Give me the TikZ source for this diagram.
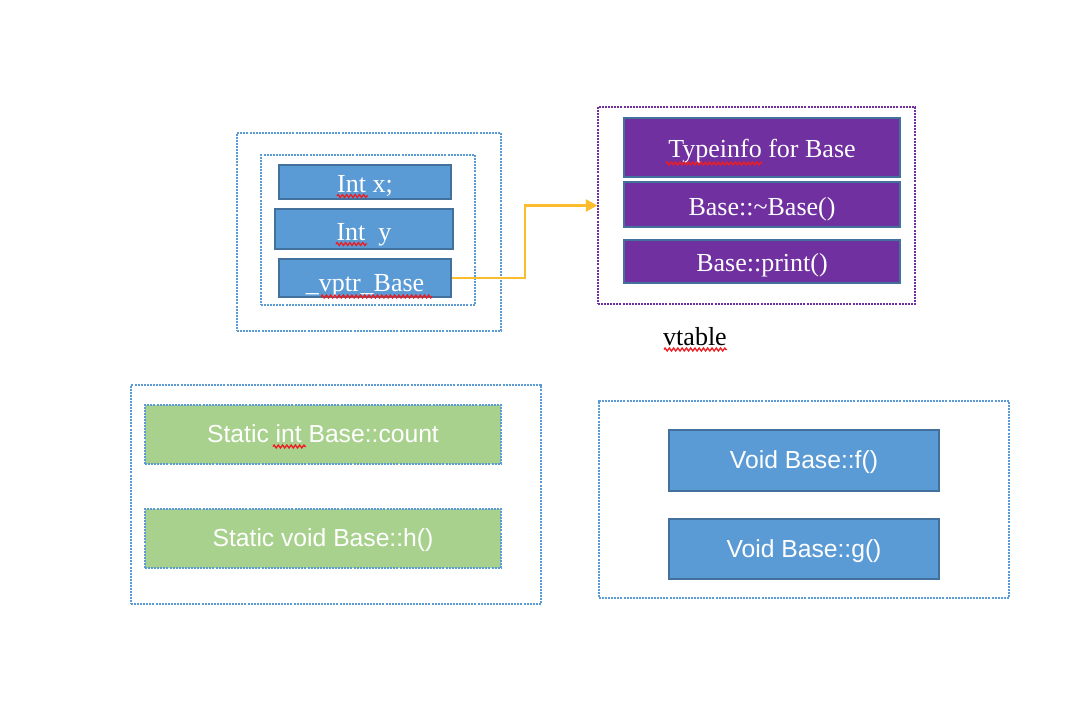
\documentclass[tikz,border=0pt]{standalone}
\usepackage{fontspec}
\setmainfont{Liberation Serif}
\setsansfont{Liberation Sans}
\usetikzlibrary{arrows.meta,decorations.pathmorphing}
\definecolor{boxblue}{RGB}{91,155,213}
\definecolor{edgeblue}{RGB}{65,113,156}
\definecolor{dotblue}{RGB}{91,155,213}
\definecolor{vpurple}{RGB}{112,48,160}
\definecolor{sgreen}{RGB}{169,209,142}
\definecolor{arrowgold}{RGB}{251,188,45}
\definecolor{squigred}{RGB}{235,30,35}
\tikzset{
  sz/.style 2 args={minimum width=#1*0.75pt, minimum height=#2*0.75pt},
  th/.style={text height=#1, text depth=0pt},
  holder/.style={draw=dotblue, line width=1.1pt, dash pattern=on 1.5pt off 0.8pt, inner sep=0pt},
  pholder/.style={draw=vpurple, line width=1.1pt, dash pattern=on 1.5pt off 0.8pt, inner sep=0pt},
  memb/.style={draw=edgeblue, line width=1.2pt, fill=boxblue, text=white, inner sep=0pt,
    font=\fontsize{19.5pt}{22pt}\selectfont},
  vent/.style={draw=edgeblue, line width=1.2pt, fill=vpurple, text=white, inner sep=0pt,
    font=\fontsize{19.5pt}{22pt}\selectfont},
  statbox/.style={draw=dotblue, line width=1.1pt, dash pattern=on 1.5pt off 0.8pt, fill=sgreen,
    text=white, inner sep=0pt, font=\sffamily\fontsize{18.5pt}{22pt}\selectfont},
  fnbox/.style={draw=edgeblue, line width=1.2pt, fill=boxblue, text=white, inner sep=0pt,
    font=\sffamily\fontsize{18.5pt}{22pt}\selectfont},
  conn/.style={draw=arrowgold, line width=1.6pt, -{Triangle[length=8.5pt,width=9pt]}},
  squig/.style={draw=squigred, line width=1pt, decorate,
    decoration={zigzag, segment length=3.2pt, amplitude=1.1pt}}
}
\begin{document}
\begin{tikzpicture}[x=0.75pt, y=-0.75pt]
\useasboundingbox (0,0) rectangle (1074,706);
% object layout
\node[holder, sz={264}{198}] (obj) at (369,232) {};
\node[holder, sz={214}{150}] (objin) at (368,230) {};
\node[memb, sz={172}{34}, th=16.5pt] (intx) at (365,182) {Int x;};
\node[memb, sz={178}{40}, th=16.5pt] (inty) at (364,229) {Int\ \ y};
\node[memb, sz={172}{38}, th=20.5pt] (vptr) at (365,278) {\_vptr\_Base};
% vtable
\node[pholder, sz={317}{197}] (vt) at (756.5,205.5) {};
\node[vent, sz={276}{59}, th=14.7pt] (tinfo) at (762,147.5) {Typeinfo for Base};
\node[vent, sz={276}{45}, th=15.75pt] (dtor) at (762,204.5) {Base::\char"007E Base()};
\node[vent, sz={276}{43}, th=15.3pt] (prnt) at (762,261.5) {Base::print()};
\node[anchor=base, inner sep=0pt, font=\fontsize{19.5pt}{22pt}\selectfont] (vtlab) at (695,345) {vtable};
% statics
\node[holder, sz={410}{219}] (stat) at (336,494.5) {};
\node[statbox, sz={356}{59}, th=12.3pt] (cnt) at (323,434.5) {Static int Base::count};
\node[statbox, sz={356}{59}, th=12.3pt] (hfn) at (323,538.5) {Static void Base::h()};
% member functions
\node[holder, sz={410}{197}] (fns) at (804,499.5) {};
\node[fnbox, sz={270}{61}, th=11.7pt] (ffn) at (804,460.5) {Void Base::f()};
\node[fnbox, sz={270}{60}, th=13pt] (gfn) at (804,549) {Void Base::g()};
% connector
\coordinate (jog) at (525,205.5);
\draw[conn] (vptr.east) -| (jog) -- (vt.west);
% spell-check squiggles
\draw[squig] (337,196) -- (368,196);
\draw[squig] (336,244) -- (367,244);
\draw[squig] (321,296.5) -- (432,296.5);
\draw[squig] (666,163.5) -- (762,163.5);
\draw[squig] (664,349.5) -- (727,349.5);
\draw[squig] (273,446.5) -- (306,446.5);
\end{tikzpicture}
\end{document}
